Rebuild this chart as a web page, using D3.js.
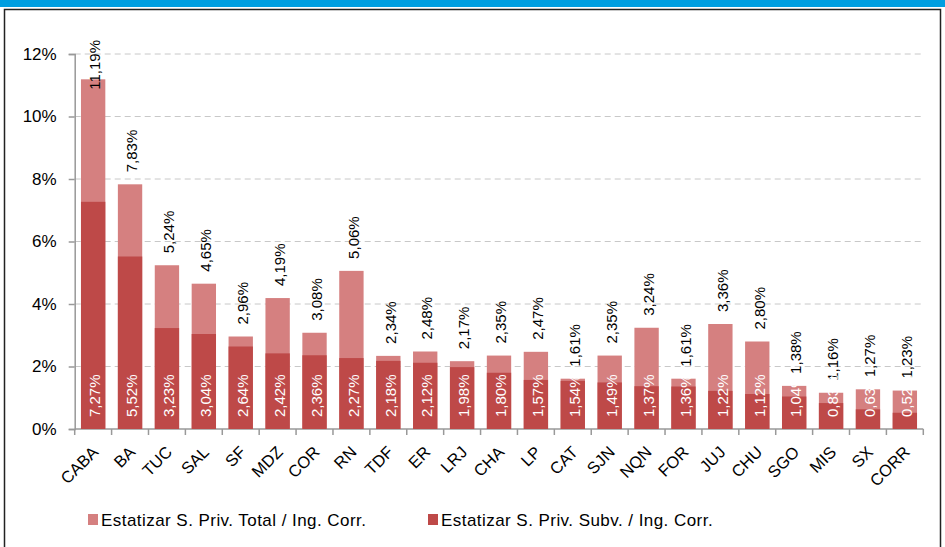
<!DOCTYPE html>
<html><head><meta charset="utf-8">
<script src="https://cdn.jsdelivr.net/npm/d3@7"></script>
<style>body{margin:0;background:#fff;}svg{display:block;font-family:"Liberation Sans",Arial,sans-serif;}</style>
</head><body><svg id="c" width="945" height="547"></svg>
<script>
const categories = ["CABA","BA","TUC","SAL","SF","MDZ","COR","RN","TDF","ER","LRJ","CHA","LP","CAT","SJN","NQN","FOR","JUJ","CHU","SGO","MIS","SX","CORR"];
const totalValues = [11.19,7.83,5.24,4.65,2.96,4.19,3.08,5.06,2.34,2.48,2.17,2.35,2.47,1.61,2.35,3.24,1.61,3.36,2.80,1.38,1.16,1.27,1.23];
const subvValues = [7.27,5.52,3.23,3.04,2.64,2.42,2.36,2.27,2.18,2.12,1.98,1.80,1.57,1.54,1.49,1.37,1.36,1.22,1.12,1.04,0.83,0.63,0.52];
const yTicks = [0,2,4,6,8,10,12];
const seriesNames = ["Estatizar S. Priv. Total / Ing. Corr.","Estatizar S. Priv. Subv. / Ing. Corr."];
const colors = ["#d58080","#be4948"];

const svg = d3.select("#c");
const fmt = v => v.toFixed(2).replace(".", ",") + "%";

// frame
svg.append("rect").attr("x",0).attr("y",0).attr("width",945).attr("height",7).attr("fill","#009ee0");
svg.append("rect").attr("x",4.5).attr("y",9.5).attr("width",936).attr("height",545).attr("fill","none").attr("stroke","#222").attr("stroke-width",1.5);

const x0 = 74.7, x1 = 923.3, yBase = 429, yTop = 54;
const x = d3.scaleBand().domain(categories).range([x0, x1]).paddingInner(0.34).paddingOuter(0.17);
const y = d3.scaleLinear().domain([0,12]).range([yBase, yTop]);

// gridlines
svg.append("g").selectAll("line").data(yTicks.filter(t=>t>0)).join("line")
  .attr("x1",x0).attr("x2",x1).attr("y1",d=>y(d)).attr("y2",d=>y(d))
  .attr("stroke","#c8c8c8").attr("stroke-width",1).attr("stroke-dasharray","6,4");

// y axis
const yAxis = d3.axisLeft(y).tickValues(yTicks).tickFormat(d=>d+"%").tickSize(6).tickPadding(12);
const gy = svg.append("g").attr("transform",`translate(${x0},0)`).call(yAxis);
gy.select(".domain").attr("stroke","#999").attr("stroke-width",1.5);
gy.selectAll(".tick line").attr("stroke","#999").attr("stroke-width",1.5);
gy.selectAll(".tick text").attr("font-size",17).attr("fill","#000").attr("font-family","Liberation Sans, Arial, sans-serif");

// x axis: baseline + boundary ticks
const step = x.step();
svg.append("line").attr("x1",x0).attr("x2",x1).attr("y1",yBase).attr("y2",yBase).attr("stroke","#999").attr("stroke-width",1.5);
svg.append("g").selectAll("line").data(d3.range(categories.length+1)).join("line")
  .attr("x1",i=>x0+i*step).attr("x2",i=>x0+i*step).attr("y1",yBase).attr("y2",yBase+6)
  .attr("stroke","#999").attr("stroke-width",1.5);

// bars
const data = categories.map((c,i)=>({c, t: totalValues[i], s: subvValues[i]}));
svg.append("g").selectAll("rect").data(data).join("rect")
  .attr("x",d=>x(d.c)).attr("width",x.bandwidth()).attr("y",d=>y(d.t)).attr("height",d=>yBase-y(d.t)).attr("fill",colors[0]);
svg.append("g").selectAll("rect").data(data).join("rect")
  .attr("x",d=>x(d.c)).attr("width",x.bandwidth()).attr("y",d=>y(d.s)).attr("height",d=>yBase-y(d.s)).attr("fill",colors[1]);

// total labels
const fs = 15;
const tl = svg.append("g").selectAll("text").data(data).join("text")
  .attr("font-size",fs).attr("fill","#000").attr("text-anchor","start").attr("dy","0.35em")
  .text(d=>fmt(d.t));
tl.each(function(d){
  const len = this.getComputedTextLength();
  const cx = x(d.c) + x.bandwidth()/2 + 2;
  let sy = y(d.t) - 12;
  if (sy - len < 40) sy = 40 + len;
  d3.select(this).attr("transform",`translate(${cx},${sy}) rotate(-90)`);
});

// inner labels
svg.append("g").selectAll("text").data(data).join("text")
  .attr("font-size",fs).attr("fill","#fff").attr("text-anchor","start").attr("dy","0.35em")
  .attr("transform",d=>`translate(${x(d.c)+x.bandwidth()/2+2},${yBase-12}) rotate(-90)`)
  .text(d=>fmt(d.s));

// x labels
svg.append("g").selectAll("text").data(categories).join("text")
  .attr("font-size",16.5).attr("fill","#000").attr("text-anchor","end")
  .attr("transform",d=>`translate(${x(d)+x.bandwidth()/2-2},${yBase+16}) rotate(-45)`)
  .attr("dy","0.7em")
  .text(d=>d);

// legend
const lg = svg.append("g");
const lx = [88, 428];
seriesNames.forEach((n,i)=>{
  lg.append("rect").attr("x",lx[i]).attr("y",514).attr("width",10).attr("height",11).attr("fill",colors[i]);
  lg.append("text").attr("x",lx[i]+13).attr("y",520).attr("dy","0.35em").attr("font-size",17)
    .attr("letter-spacing","0.45px").attr("fill","#000").text(n);
});
</script></body></html>
